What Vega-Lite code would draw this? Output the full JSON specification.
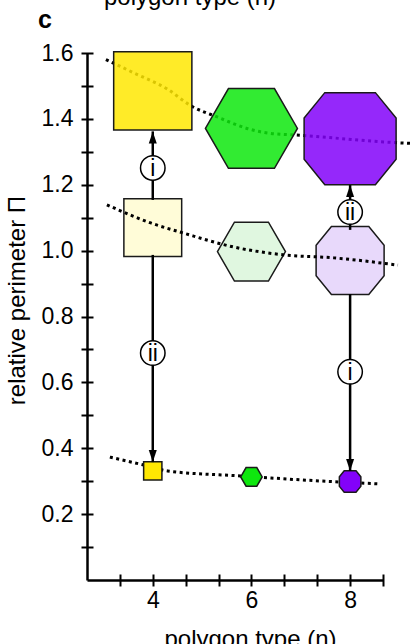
{
  "$schema": "https://vega.github.io/schema/vega-lite/v6.json",
  "width": 296,
  "height": 527,
  "autosize": {"type": "none"},
  "padding": {"left": 87, "top": 53, "right": 27, "bottom": 64},
  "background": "white",
  "config": {"view": {"stroke": null}, "font": "Liberation Sans"},
  "datasets": {
    "shapes": [
      {"n": 4, "pi": 1.485, "row": "top"}, {"n": 6, "pi": 1.371, "row": "top"}, {"n": 8, "pi": 1.34, "row": "top"},
      {"n": 4, "pi": 1.07, "row": "mid"}, {"n": 6, "pi": 0.997, "row": "mid"}, {"n": 8, "pi": 0.97, "row": "mid"},
      {"n": 4, "pi": 0.331, "row": "bot"}, {"n": 6, "pi": 0.313, "row": "bot"}, {"n": 8, "pi": 0.299, "row": "bot"}
    ],
    "curves": [
      {"curve": "top", "n": 3.05, "pi": 1.58}, {"curve": "top", "n": 3.61, "pi": 1.54}, {"curve": "top", "n": 4.3, "pi": 1.49},
      {"curve": "top", "n": 4.77, "pi": 1.44}, {"curve": "top", "n": 5.32, "pi": 1.405}, {"curve": "top", "n": 5.93, "pi": 1.37},
      {"curve": "top", "n": 6.33, "pi": 1.357}, {"curve": "top", "n": 7.0, "pi": 1.35}, {"curve": "top", "n": 7.67, "pi": 1.342},
      {"curve": "top", "n": 8.68, "pi": 1.33}, {"curve": "top", "n": 9.3, "pi": 1.325},
      {"curve": "mid", "n": 3.07, "pi": 1.139}, {"curve": "mid", "n": 3.96, "pi": 1.084}, {"curve": "mid", "n": 4.63, "pi": 1.053},
      {"curve": "mid", "n": 5.64, "pi": 1.011}, {"curve": "mid", "n": 6.66, "pi": 0.987}, {"curve": "mid", "n": 7.67, "pi": 0.978},
      {"curve": "mid", "n": 8.97, "pi": 0.956},
      {"curve": "bot", "n": 3.13, "pi": 0.373}, {"curve": "bot", "n": 3.82, "pi": 0.349}, {"curve": "bot", "n": 4.3, "pi": 0.331},
      {"curve": "bot", "n": 5.78, "pi": 0.316}, {"curve": "bot", "n": 7.0, "pi": 0.304}, {"curve": "bot", "n": 8.56, "pi": 0.292}
    ],
    "arrows": [
      {"n": 4, "from": 1.154, "to": 1.362, "dir": "up"},
      {"n": 4, "from": 0.987, "to": 0.358, "dir": "down"},
      {"n": 8, "from": 1.063, "to": 1.199, "dir": "up"},
      {"n": 8, "from": 0.868, "to": 0.331, "dir": "down"}
    ],
    "circles": [
      {"n": 4, "pi": 1.251, "label": "i"}, {"n": 4, "pi": 0.689, "label": "ii"},
      {"n": 8, "pi": 1.117, "label": "ii"}, {"n": 8, "pi": 0.632, "label": "i"}
    ],
    "heading": [{"text": "polygon type (n)", "n": 4.755, "pi": 1.745}],
    "panel": [{"text": "c", "n": 1.673, "pi": 1.676}]
  },
  "layer": [
    {
      "data": {"name": "curves"},
      "transform": [{"filter": "datum.curve === 'top'"}],
      "mark": {"type": "line", "color": "black", "strokeWidth": 3, "strokeDash": [3, 3.5], "interpolate": "monotone"},
      "encoding": {
        "x": {"field": "n", "type": "quantitative", "scale": {"domain": [2.6667, 8.6667], "nice": false, "zero": false}, "axis": null},
        "y": {"field": "pi", "type": "quantitative", "scale": {"domain": [0, 1.6], "nice": false, "zero": false}, "axis": null}
      }
    },
    {
      "data": {"name": "shapes"},
      "transform": [{"filter": "datum.row === 'top'"}],
      "mark": {"type": "point", "filled": true, "size": 8464, "stroke": "#1a1a1a", "strokeWidth": 1.5, "opacity": 1, "fillOpacity": 0.85},
      "encoding": {
        "x": {"field": "n", "type": "quantitative", "scale": {"domain": [2.6667, 8.6667], "nice": false, "zero": false},
          "axis": {"values": [4, 6, 8], "ticks": false, "tickSize": 0, "labelFontSize": 23, "labelColor": "black", "labelPadding": 9,
            "domainColor": "black", "domainWidth": 2.5, "grid": false, "title": "polygon type (n)", "titleFontSize": 24, "titleFontWeight": "normal",
            "titleColor": "black", "titleX": 163, "titleY": 47, "titleAlign": "center", "titleBaseline": "top"}},
        "y": {"field": "pi", "type": "quantitative", "scale": {"domain": [0, 1.6], "nice": false, "zero": false},
          "axis": {"values": [0.2, 0.4, 0.6, 0.8, 1.0, 1.2, 1.4, 1.6], "format": ".1f", "ticks": false, "tickSize": 0, "labelFontSize": 23,
            "labelColor": "black", "labelPadding": 14, "domainColor": "black", "domainWidth": 2.5, "grid": false,
            "title": "relative perimeter Π", "titleFontSize": 24, "titleFontWeight": "normal", "titleColor": "black",
            "titleX": -70, "titleY": 247, "titleAngle": -90, "titleAlign": "center", "titleBaseline": "middle"}},
        "shape": {"field": "n", "type": "nominal", "legend": null,
          "scale": {"domain": [4, 6, 8], "range": ["M-0.85,-0.85L0.85,-0.85L0.85,0.85L-0.85,0.85Z", "M-1,0L-0.5,-0.866L0.5,-0.866L1,0L0.5,0.866L-0.5,0.866Z", "M-0.55,-1L0.55,-1L1,-0.45L1,0.45L0.55,1L-0.55,1L-1,0.45L-1,-0.45Z"]}},
        "fill": {"field": "n", "type": "nominal", "legend": null, "scale": {"domain": [4, 6, 8], "range": ["#FFE702", "#0EE70E", "#8302F9"]}}
      }
    },
    {
      "data": {"name": "curves"},
      "transform": [{"filter": "datum.curve === 'bot'"}],
      "mark": {"type": "line", "color": "black", "strokeWidth": 3, "strokeDash": [3, 3.5], "interpolate": "monotone"},
      "encoding": {
        "x": {"field": "n", "type": "quantitative", "scale": {"domain": [2.6667, 8.6667], "nice": false, "zero": false}, "axis": null},
        "y": {"field": "pi", "type": "quantitative", "scale": {"domain": [0, 1.6], "nice": false, "zero": false}, "axis": null}
      }
    },
    {
      "data": {"name": "shapes"},
      "transform": [{"filter": "datum.row === 'bot'"}],
      "mark": {"type": "point", "filled": true, "size": 462, "stroke": "#1a1a1a", "strokeWidth": 1.5, "opacity": 1},
      "encoding": {
        "x": {"field": "n", "type": "quantitative", "scale": {"domain": [2.6667, 8.6667], "nice": false, "zero": false}, "axis": null},
        "y": {"field": "pi", "type": "quantitative", "scale": {"domain": [0, 1.6], "nice": false, "zero": false}, "axis": null},
        "shape": {"field": "n", "type": "nominal", "legend": null,
          "scale": {"domain": [4, 6, 8], "range": ["M-0.85,-0.85L0.85,-0.85L0.85,0.85L-0.85,0.85Z", "M-1,0L-0.5,-0.866L0.5,-0.866L1,0L0.5,0.866L-0.5,0.866Z", "M-0.55,-1L0.55,-1L1,-0.45L1,0.45L0.55,1L-0.55,1L-1,0.45L-1,-0.45Z"]}},
        "fill": {"field": "n", "type": "nominal", "legend": null, "scale": {"domain": [4, 6, 8], "range": ["#FFE702", "#0EE70E", "#8302F9"]}}
      }
    },
    {
      "data": {"name": "shapes"},
      "transform": [{"filter": "datum.row === 'mid'"}],
      "mark": {"type": "point", "filled": true, "size": 4624, "stroke": "#1a1a1a", "strokeWidth": 1.5, "opacity": 1},
      "encoding": {
        "x": {"field": "n", "type": "quantitative", "scale": {"domain": [2.6667, 8.6667], "nice": false, "zero": false},
          "axis": {"orient": "bottom", "values": [3.3333, 4, 4.6667, 5.3333, 6, 6.6667, 7.3333, 8, 8.6667], "ticks": true, "tickSize": 12,
            "tickWidth": 2, "tickColor": "black", "offset": -6, "domain": false, "labels": false, "grid": false, "title": null}},
        "y": {"field": "pi", "type": "quantitative", "scale": {"domain": [0, 1.6], "nice": false, "zero": false},
          "axis": {"orient": "left", "values": [0.1, 0.2, 0.3, 0.4, 0.5, 0.6, 0.7, 0.8, 0.9, 1.0, 1.1, 1.2, 1.3, 1.4, 1.5, 1.6], "ticks": true,
            "tickSize": 12, "tickWidth": 2, "tickColor": "black", "offset": -6, "domain": false, "labels": false, "grid": false, "title": null}},
        "shape": {"field": "n", "type": "nominal", "legend": null,
          "scale": {"domain": [4, 6, 8], "range": ["M-0.85,-0.85L0.85,-0.85L0.85,0.85L-0.85,0.85Z", "M-1,0L-0.5,-0.866L0.5,-0.866L1,0L0.5,0.866L-0.5,0.866Z", "M-0.55,-1L0.55,-1L1,-0.45L1,0.45L0.55,1L-0.55,1L-1,0.45L-1,-0.45Z"]}},
        "fill": {"field": "n", "type": "nominal", "legend": null, "scale": {"domain": [4, 6, 8], "range": ["#FFFCD8", "#E0F7E0", "#E8D9FB"]}}
      }
    },
    {
      "data": {"name": "curves"},
      "transform": [{"filter": "datum.curve === 'mid'"}],
      "mark": {"type": "line", "color": "black", "strokeWidth": 3, "strokeDash": [3, 3.5], "interpolate": "monotone"},
      "encoding": {
        "x": {"field": "n", "type": "quantitative", "scale": {"domain": [2.6667, 8.6667], "nice": false, "zero": false}, "axis": null},
        "y": {"field": "pi", "type": "quantitative", "scale": {"domain": [0, 1.6], "nice": false, "zero": false}, "axis": null}
      }
    },
    {
      "data": {"name": "arrows"},
      "mark": {"type": "rule", "color": "black", "strokeWidth": 2.5},
      "encoding": {
        "x": {"field": "n", "type": "quantitative", "scale": {"domain": [2.6667, 8.6667], "nice": false, "zero": false}, "axis": null},
        "y": {"field": "from", "type": "quantitative", "scale": {"domain": [0, 1.6], "nice": false, "zero": false}, "axis": null},
        "y2": {"field": "to"}
      }
    },
    {
      "data": {"name": "arrows"},
      "transform": [{"filter": "datum.dir === 'up'"}],
      "mark": {"type": "point", "filled": true, "color": "black", "opacity": 1, "size": 400, "shape": "M0,0L-0.4,1.2L0.4,1.2Z"},
      "encoding": {
        "x": {"field": "n", "type": "quantitative", "scale": {"domain": [2.6667, 8.6667], "nice": false, "zero": false}, "axis": null},
        "y": {"field": "to", "type": "quantitative", "scale": {"domain": [0, 1.6], "nice": false, "zero": false}, "axis": null}
      }
    },
    {
      "data": {"name": "arrows"},
      "transform": [{"filter": "datum.dir === 'down'"}],
      "mark": {"type": "point", "filled": true, "color": "black", "opacity": 1, "size": 400, "shape": "M0,0L-0.4,-1.2L0.4,-1.2Z"},
      "encoding": {
        "x": {"field": "n", "type": "quantitative", "scale": {"domain": [2.6667, 8.6667], "nice": false, "zero": false}, "axis": null},
        "y": {"field": "to", "type": "quantitative", "scale": {"domain": [0, 1.6], "nice": false, "zero": false}, "axis": null}
      }
    },
    {
      "data": {"name": "circles"},
      "mark": {"type": "point", "shape": "circle", "size": 600, "fill": "white", "stroke": "black", "strokeWidth": 1.5, "opacity": 1, "fillOpacity": 1},
      "encoding": {
        "x": {"field": "n", "type": "quantitative", "scale": {"domain": [2.6667, 8.6667], "nice": false, "zero": false}, "axis": null},
        "y": {"field": "pi", "type": "quantitative", "scale": {"domain": [0, 1.6], "nice": false, "zero": false}, "axis": null}
      }
    },
    {
      "data": {"name": "circles"},
      "mark": {"type": "text", "fontSize": 23, "color": "black", "align": "center", "baseline": "middle", "dy": 1},
      "encoding": {
        "x": {"field": "n", "type": "quantitative", "scale": {"domain": [2.6667, 8.6667], "nice": false, "zero": false}, "axis": null},
        "y": {"field": "pi", "type": "quantitative", "scale": {"domain": [0, 1.6], "nice": false, "zero": false}, "axis": null},
        "text": {"field": "label"}
      }
    },
    {
      "data": {"name": "heading"},
      "mark": {"type": "text", "fontSize": 24, "color": "black", "align": "center", "baseline": "alphabetic"},
      "encoding": {
        "x": {"field": "n", "type": "quantitative", "scale": {"domain": [2.6667, 8.6667], "nice": false, "zero": false}, "axis": null},
        "y": {"field": "pi", "type": "quantitative", "scale": {"domain": [0, 1.6], "nice": false, "zero": false}, "axis": null},
        "text": {"field": "text"}
      }
    },
    {
      "data": {"name": "panel"},
      "mark": {"type": "text", "fontSize": 25, "fontWeight": "bold", "color": "black", "align": "left", "baseline": "alphabetic"},
      "encoding": {
        "x": {"field": "n", "type": "quantitative", "scale": {"domain": [2.6667, 8.6667], "nice": false, "zero": false}, "axis": null},
        "y": {"field": "pi", "type": "quantitative", "scale": {"domain": [0, 1.6], "nice": false, "zero": false}, "axis": null},
        "text": {"field": "text"}
      }
    }
  ],
  "resolve": {"scale": {"fill": "independent"}, "axis": {"x": "independent", "y": "independent"}}
}
